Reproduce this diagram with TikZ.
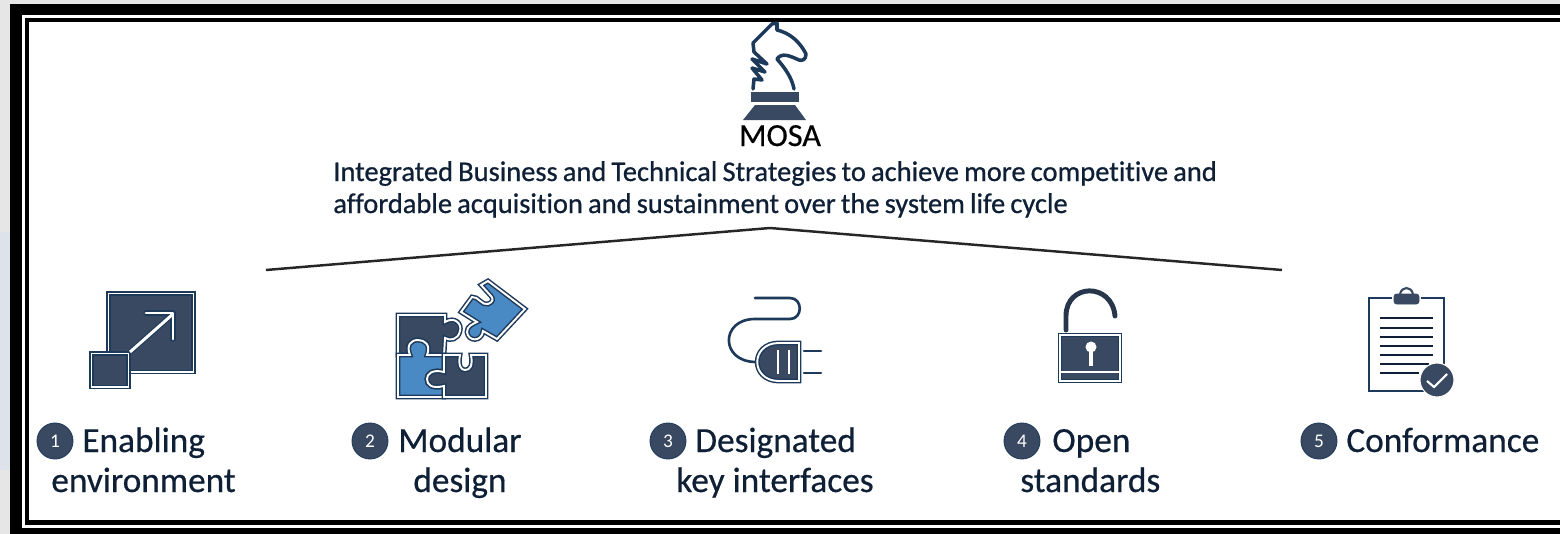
\documentclass[tikz,border=0pt]{standalone}
\usepackage{fontspec}
\setmainfont{Carlito}
\newfontfamily\captionfont[FakeBold=0.5]{Carlito}
\newfontfamily\strategyfont[FakeBold=0.7,WordSpace=0.8,Ligatures=NoCommon]{Carlito}
\definecolor{iconnavy}{HTML}{3A4962}
\definecolor{iconedge}{HTML}{1E3A5A}
\definecolor{iconblue}{HTML}{4A8AC4}
\definecolor{textnavy}{HTML}{0F2036}
\definecolor{pagegrey}{HTML}{E6E6E6}
\definecolor{patchgrey}{HTML}{DCE3EB}
\tikzset{
	iconshape/.style={fill=iconnavy, draw=iconedge, line width=2.8pt, line join=miter, postaction={draw=white, line width=1.1pt}},
	blueshape/.style={iconshape, fill=iconblue},
	wire/.style={draw=iconedge, line width=1.5pt, line cap=round},
	badge/.style={circle, fill=iconnavy, draw=iconedge, line width=0.5pt, minimum size=0.72cm, inner sep=0pt, text=white, font=\fontsize{11}{11}\selectfont},
	caption/.style={anchor=base west, inner sep=0pt, text=textnavy, font=\fontsize{20.1}{22}\captionfont},
	strategy/.style={anchor=base west, inner sep=0pt, text=textnavy, font=\fontsize{16.2}{18}\strategyfont}
}

\begin{document}
\begin{tikzpicture}[x=0.02cm, y=-0.02cm]
			%%%%% START %%%%%
			\useasboundingbox (0, 0) rectangle (1560, 534);
			
			% page and frame
			\fill[pagegrey] (0, 0) rectangle (1560, 534);
			\fill[patchgrey] (0, 232) rectangle (10, 470);
			\fill[black] (10, 4) rectangle (1560, 534);
			\fill[white] (22, 15) rectangle (1560, 528);
			\fill[black] (25, 18) rectangle (1560, 525);
			\fill[white] (29, 22) rectangle (1560, 520);
			
			% knight
			\draw[wire, line width=2pt, line join=round] (753, 89) -- (754, 79) -- (762, 80) -- (752, 68) -- (765, 72) -- (752, 59) -- (767, 64) -- (754, 52) -- (753, 43) -- (772, 24) -- (777, 23) -- (777, 30) .. controls (790, 33) and (800, 42) .. (806, 54) .. controls (806, 60) and (802, 61) .. (799, 60) .. controls (790, 56) and (782, 52) .. (777, 59) .. controls (785, 68) and (792, 78) .. (794, 89);
			\fill[iconnavy] (751, 92) rectangle (799, 102);
			\fill[iconnavy] (743, 120) -- (755, 105) -- (795, 105) -- (806, 120) -- cycle;
			\node[anchor=base, inner sep=0pt, text=black, font=\fontsize{18.3}{20}\captionfont] (mosa) at (780, 146) {MOSA};
			
			\node[strategy] (strategy1) at (333, 181) {Integrated Business and Technical Strategies to achieve more competitive and};
			\node[strategy] (strategy2) at (333, 213) {affordable acquisition and sustainment over the system life cycle};
			
			% roof line
			\coordinate (roofleft) at (266, 270);
			\coordinate (roofpeak) at (770, 228);
			\coordinate (roofright) at (1282, 270);
			\draw[line width=1.4pt, color=black!85] (roofleft) -- (roofpeak) -- (roofright);
			
			% enabling environment
			\draw[iconshape] (108.5, 293.5) rectangle (193.5, 372);
			\draw[iconshape] (91.5, 353.5) rectangle (128.5, 387);
			\draw[iconedge, line width=3pt] (130, 352) -- (173, 314);
			\draw[iconedge, line width=3pt, line cap=round, line join=round] (146, 313) -- (173, 313) -- (173, 339);
			\draw[white, line width=1.7pt] (130, 352) -- (173, 314);
			\draw[white, line width=1.7pt, line cap=round, line join=round] (146, 313) -- (173, 313) -- (173, 339);
			
			% modular design
			\draw[iconshape] (398, 315) -- (445, 315) -- (445, 322) .. controls (455, 316) and (462, 324) .. (460, 331) .. controls (458, 340) and (450, 341) .. (445, 338) -- (444, 355) -- (427, 355) .. controls (431, 345) and (425, 340) .. (418, 340) .. controls (411, 340) and (406, 345) .. (410, 355) -- (398, 355) -- cycle;
			\draw[blueshape] (398, 355) -- (410, 355) .. controls (406, 345) and (411, 340) .. (418, 340) .. controls (425, 340) and (431, 345) .. (427, 355) -- (444, 355) -- (444, 372) .. controls (432, 369) and (427, 374) .. (427, 379) .. controls (427, 385) and (432, 389) .. (444, 386) -- (444, 397) -- (398, 397) -- cycle;
			\draw[iconshape] (444, 355) -- (460, 355) .. controls (458, 366) and (461, 370) .. (465, 370) .. controls (470, 370) and (473, 366) .. (471, 355) -- (486, 355) -- (486, 397) -- (444, 397) -- (444, 386) .. controls (432, 389) and (427, 385) .. (427, 379) .. controls (427, 374) and (432, 369) .. (444, 372) -- cycle;
			\draw[blueshape] (461, 312) -- (472, 297) .. controls (478, 296) and (482, 306) .. (488, 304) .. controls (494, 302) and (493, 298) .. (491, 296) -- (481, 285) -- (488, 281) -- (525, 309) -- (497, 339) -- (483, 331) .. controls (482, 342) and (468, 342) .. (467, 332) .. controls (467, 326) and (473, 324) .. (477, 322) -- cycle;
			
			% designated key interfaces
			\draw[wire] (755, 298) -- (790, 298) .. controls (803, 298) and (803, 319) .. (790, 319) -- (755, 319) .. controls (720, 319) and (720, 362) .. (756, 362);
			\draw[iconshape] (799, 343) -- (779, 343) .. controls (750, 343) and (750, 381) .. (779, 381) -- (799, 381) -- cycle;
			\draw[white, line width=1pt] (778, 350) -- (778, 374);
			\draw[white, line width=1pt] (789, 350) -- (789, 374);
			\draw[wire] (804, 351) -- (821, 351);
			\draw[wire] (804, 373) -- (821, 373);
			
			% open standards
			\draw[color=textnavy!90, line width=2.8pt, line cap=round] (1066, 330) -- (1066, 316) .. controls (1066, 283) and (1112, 282) .. (1115, 316);
			\draw[iconshape] (1060, 335) rectangle (1120, 381);
			\draw[white, line width=1pt] (1060, 372) -- (1120, 372);
			\fill[white] (1091, 347) circle (5.5);
			\fill[white] (1089, 347) rectangle (1093, 366);
			
			% conformance
			\draw[line width=1.3pt, color=iconedge] (1392, 298) -- (1369, 298) -- (1369, 391) -- (1425, 391);
			\draw[line width=1.3pt, color=iconedge] (1421, 298) -- (1444, 298) -- (1444, 368);
			\draw[fill=iconnavy, draw=iconnavy, rounded corners=1.5pt] (1394, 294) rectangle (1419, 304);
			\draw[line width=1.2pt, color=iconnavy] (1400, 294) .. controls (1402, 286) and (1411, 286) .. (1413, 294);
			\draw[line width=1.5pt, color=textnavy] (1380, 318) -- (1433, 318);
			\draw[line width=1.5pt, color=textnavy] (1380, 328) -- (1433, 328);
			\draw[line width=1.5pt, color=textnavy] (1380, 337) -- (1433, 337);
			\draw[line width=1.5pt, color=textnavy] (1380, 346) -- (1433, 346);
			\draw[line width=1.5pt, color=textnavy] (1380, 355) -- (1433, 355);
			\draw[line width=1.5pt, color=textnavy] (1380, 364) -- (1429, 364);
			\draw[line width=1.5pt, color=textnavy] (1380, 373) -- (1419, 373);
			\draw[fill=iconnavy, draw=white, line width=0.6pt] (1437, 380) circle (17);
			\draw[white, line width=1.2pt] (1427, 381) -- (1434, 387) -- (1447, 374);
			
			% captions
			\node[badge] (badge1) at (55, 441) {1};
			\node[caption] (enabling) at (82, 452) {Enabling};
			\node[caption] (environment) at (51, 492) {environment};
			
			\node[badge] (badge2) at (370, 441) {2};
			\node[caption] (modular) at (398, 452) {Modular};
			\node[caption] (design) at (413, 492) {design};
			
			\node[badge] (badge3) at (668, 441) {3};
			\node[caption] (designated) at (695, 452) {Designated};
			\node[caption] (keyinterfaces) at (676, 492) {key interfaces};
			
			\node[badge] (badge4) at (1022, 441) {4};
			\node[caption] (open) at (1052, 452) {Open};
			\node[caption] (standards) at (1020, 492) {standards};
			
			\node[badge] (badge5) at (1319, 441) {5};
			\node[caption] (conformance) at (1346, 452) {Conformance};
			%%%%% END %%%%%
\end{tikzpicture}
\end{document}
